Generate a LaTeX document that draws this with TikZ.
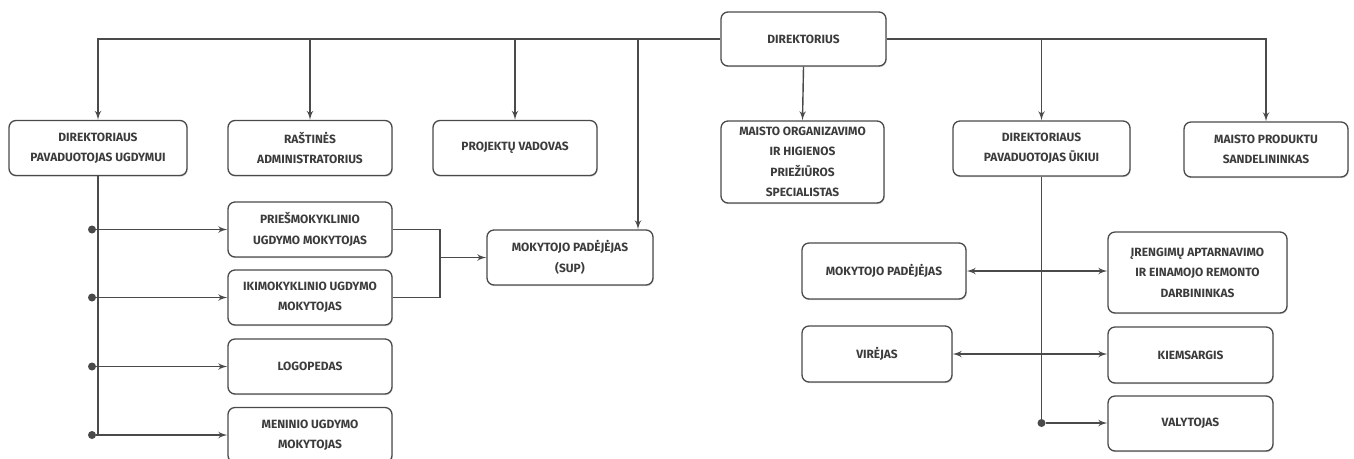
\documentclass[tikz,border=0pt]{standalone}
\usepackage{fontspec}
\setmainfont{Fira Sans}
\usetikzlibrary{arrows}
\usetikzlibrary{calc}
\usetikzlibrary{shadows}
\definecolor{edge}{HTML}{4A4A4A}
\definecolor{ink}{HTML}{3C3C3C}
\def\px{0.02cm}
\tikzstyle{box} = [draw=edge,line width=0.75pt,rounded corners=4pt,fill=white,align=center,minimum width=164*\px,minimum height=55*\px,inner sep=1pt,text=ink,font=\fontsize{6.8}{11.6}\selectfont\bfseries,drop shadow={shadow xshift=0.4pt,shadow yshift=-0.7pt,opacity=0.3}]
\tikzstyle{dot} = [circle,fill=edge,inner sep=0pt,minimum size=8*\px]
\tikzstyle{link} = [draw=edge,line width=0.8pt]

\begin{document}
\begin{tikzpicture}[>=latex',x=0.02cm,y=-0.02cm]
    \useasboundingbox (0,0) rectangle (1354,458);
    \clip (0,0) rectangle (1354,458);

% Draw blocks
    \node[box,minimum width=165*\px,minimum height=54*\px] at (803.5,39) (dir) {DIREKTORIUS};
    \node[box,minimum width=178*\px] at (98,148) (ugd) {DIREKTORIAUS\\PAVADUOTOJAS UGDYMUI};
    \node[box] at (310,148) (rast) {RAŠTINĖS\\ADMINISTRATORIUS};
    \node[box] at (515,148) (proj) {PROJEKTŲ VADOVAS};
    \node[box,minimum width=163*\px,minimum height=82*\px] at (802.5,162) (maist) {MAISTO ORGANIZAVIMO\\IR HIGIENOS\\PRIEŽIŪROS\\SPECIALISTAS};
    \node[box,minimum width=177*\px] at (1041.5,148.5) (ukio) {DIREKTORIAUS\\PAVADUOTOJAS ŪKIUI};
    \node[box] at (1266,149.5) (sand) {MAISTO PRODUKTU\\SANDELININKAS};

    \node[box] at (310,229.5) (pries) {PRIEŠMOKYKLINIO\\UGDYMO MOKYTOJAS};
    \node[box] at (310,297.5) (iki) {IKIMOKYKLINIO UGDYMO\\MOKYTOJAS};
    \node[box] at (310,366.5) (logo) {LOGOPEDAS};
    \node[box] at (310,435) (men) {MENINIO UGDYMO\\MOKYTOJAS};
    \node[box,minimum width=166*\px] at (570,257.5) (sup) {MOKYTOJO PADĖJĖJAS\\(SUP)};

    \node[box,minimum height=56*\px] at (884,271) (mokpad) {MOKYTOJO PADĖJĖJAS};
    \node[box,minimum width=179*\px,minimum height=81*\px] at (1197.5,272.5) (ireng) {ĮRENGIMŲ APTARNAVIMO\\IR EINAMOJO REMONTO\\DARBININKAS};
    \node[box,minimum width=150*\px,minimum height=56*\px] at (877,354) (vir) {VIRĖJAS};
    \node[box,minimum width=165*\px,minimum height=56*\px] at (1190.5,355) (kiem) {KIEMSARGIS};
    \node[box,minimum width=165*\px] at (1190.5,423.5) (valyt) {VALYTOJAS};

% join up
    \draw[link,->] (dir.west) -| (ugd.north);
    \draw[link,->] (rast.north |- dir.west) -- (rast.north);
    \draw[link,->] (proj.north |- dir.west) -- (proj.north);
    \coordinate (tosup) at (638,39);
    \draw[link,->] (tosup) -- (tosup |- sup.north);
    \draw[link,->] (dir.south) -- (maist.north);
    \draw[link,->] (dir.east) -| (sand.north);
    \draw[link,->] (ukio.north |- dir.east) -- (ukio.north);

    \foreach \n/\y in {pries/229.5,iki/297.5,logo/366.5,men/435} {
        \node[dot] at (92,\y) (d\n) {};
        \draw[link,->] (d\n) -- (\n.west |- d\n);
    }
    \draw[link] (ugd.south) -- (ugd.south |- dmen);

    \coordinate (join) at (440,257.5);
    \draw[link] (pries.east) -| (join) |- (iki.east);
    \draw[link,->] (join) -- (sup.west);

    \node[dot] at (1041.5,423) (dval) {};
    \draw[link] (ukio.south) -- (dval);
    \draw[link,->] (dval) -- (valyt.west |- dval);
    \draw[link,<->] (mokpad.east) -- (mokpad.east -| ireng.west);
    \draw[link,<->] (vir.east) -- (vir.east -| kiem.west);

\end{tikzpicture}
\end{document}
